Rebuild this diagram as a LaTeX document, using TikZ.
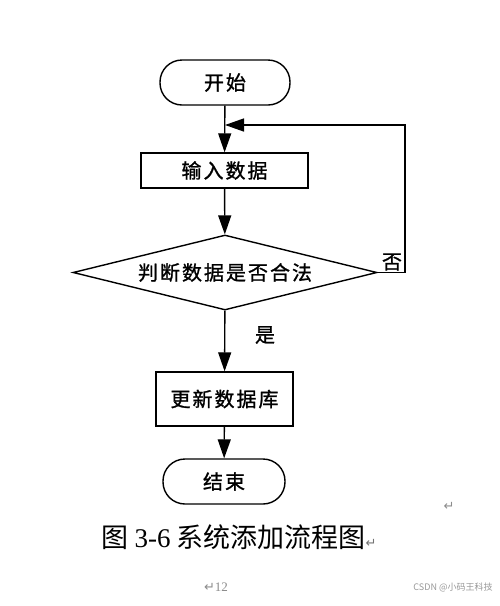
\documentclass[tikz,border=0pt]{standalone}
\usepackage{fontspec}
\setmainfont{Liberation Serif}
\newfontfamily\cjk[LetterSpace=10,FakeBold=1.2]{Noto Sans CJK SC}
\newfontfamily\cjkcap{Noto Sans CJK SC}
\newfontfamily\sym{DejaVu Sans}
\usetikzlibrary{shapes.geometric,arrows.meta}
\tikzset{
  base/.style={draw=black, line width=1.4pt, font=\cjk\fontsize{20}{20}\selectfont, inner sep=0pt},
  term/.style={base, rectangle, rounded corners=22pt},
  procbox/.style={base, rectangle},
  decbox/.style={base, diamond, shape aspect=4},
  arr/.style={line width=1.4pt, -{Triangle[length=19pt,width=13pt]}},
  lbl/.style={font=\cjk\fontsize{20}{20}\selectfont, inner sep=0pt},
  pmark/.style={text=black!45, inner sep=0pt}
}
\begin{document}
\begin{tikzpicture}[x=1pt,y=-1pt]
\useasboundingbox (0,0) rectangle (500,606);
\fill[white] (0,0) rectangle (500,606);

\node[term, minimum width=130pt, minimum height=45pt] (start) at (225,82.5) {开始};
\node[procbox, minimum width=167pt, minimum height=35pt] (input) at (224.5,170.5) {输入数据};
\node[decbox, minimum width=304pt, minimum height=75pt] (dec) at (225,272.5) {判断数据是否合法};
\node[procbox, minimum width=137pt, minimum height=54pt] (update) at (224.5,399) {更新数据库};
\node[term, minimum width=122pt, minimum height=45pt] (end) at (224,481.5) {结束};

\coordinate (j) at (225,125);
\coordinate (r) at (405,125);

\draw[arr] (start) -- (input);
\draw[arr] (input) -- (dec);
\draw[arr] (dec) -- (update);
\draw[arr] (update) -- (end);
\draw[arr] (dec.east) -| (r) -- (j);

\node[lbl] (yes) at (265,335) {是};
\node[lbl] (no) at (392,262) {否};

\node[inner sep=0pt] (cap) at (239,537) {\cjkcap\fontsize{27}{27}\selectfont 图 {\rmfamily 3-6} 系统添加流程图{\color{black!55}\sym\fontsize{13}{13}\selectfont ↵}};
\node[pmark, font=\sym\fontsize{13}{13}\selectfont] (ret) at (449,506) {↵};
\node[pmark, font=\rmfamily\fontsize{13}{13}\selectfont] (page) at (216,587) {{\sym ↵}12};
\node[pmark, font=\cjkcap\fontsize{9}{9}\selectfont, text=black!40] (wm) at (453,587) {CSDN @小码王科技};
\end{tikzpicture}
\end{document}
